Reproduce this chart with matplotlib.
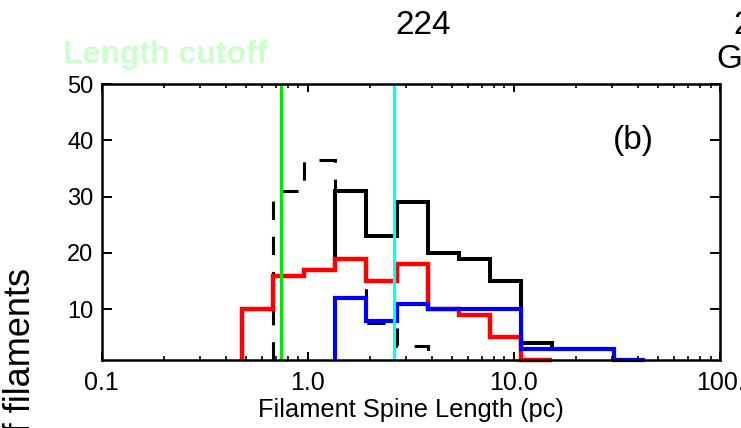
import matplotlib
matplotlib.use("Agg")
import matplotlib.pyplot as plt

plt.rcParams['font.family'] = ['Liberation Sans', 'DejaVu Sans']

# bin edges (pc)
edges = [0.481, 0.680, 0.961, 1.359, 1.921, 2.716, 3.840, 5.429, 7.676,
         10.85, 15.35, 21.70, 30.68, 43.37]

# counts per bin
total = [10, 16, 17, 31, 23, 29, 20, 19, 15, 4, 3, 3, 1]      # black solid, bins 0-12
dashed = [31, 36.5, 19, 7.5, 3.5]                              # black dashed, bins 1-5
red = [10, 16, 17, 19, 15, 18, 10, 9, 5, 1]                    # bins 0-9
blue = [12, 8, 11, 10, 10, 10, 3, 3, 3, 1]                     # bins 3-12

cutoff_green = 0.741
cutoff_cyan = 2.62

xticks = [0.1, 1.0, 10.0, 100.0]
xticklabels = ["0.1", "1.0", "10.0", "100."]
yticks = [10, 20, 30, 40, 50]

fig = plt.figure(figsize=(7.41, 4.28), dpi=100)
ax = fig.add_axes([0.1372, 0.1589, 0.8345, 0.6448])

ax.stairs(total, edges[0:14], baseline=1, color="black", lw=2.9, clip_on=False)
ax.stairs(dashed, edges[1:7], baseline=1, color="black", lw=2.2,
          linestyle=(0, (6, 5.5)), clip_on=False)
ax.stairs(red, edges[0:11], baseline=1, color="#ff0000", lw=3.2, clip_on=False)
ax.stairs(blue, edges[3:14], baseline=1, color="#0000ff", lw=3.0, clip_on=False)

ax.axvline(cutoff_green, color="#00e600", lw=2.3)
ax.axvline(cutoff_cyan, color="#00ffff", lw=2.3)

ax.set_xscale("log")
ax.set_xlim(0.1, 100)
ax.set_ylim(1, 50)
ax.set_xticks(xticks)
ax.set_xticklabels(xticklabels)
ax.set_yticks(yticks)
ax.minorticks_off()
ax.xaxis.set_minor_locator(matplotlib.ticker.LogLocator(subs=range(2, 10)))
ax.xaxis.set_minor_formatter(matplotlib.ticker.NullFormatter())

for s in ax.spines.values():
    s.set_linewidth(1.8)
ax.tick_params(axis="x", which="major", direction="in", length=5.8, width=1.4,
               top=True, labelsize=18, pad=8)
ax.tick_params(axis="x", which="minor", direction="in", length=3.2, width=1.2, top=True)
ax.tick_params(axis="y", which="major", direction="in", length=7.2, width=1.4,
               right=True, labelsize=17, pad=6)

ax.set_xlabel("Filament Spine Length (pc)", fontsize=18.3, labelpad=2)

fig.text(633 / 741, 1 - 141 / 428, "(b)", fontsize=24, ha="center", va="center")
fig.text(423 / 741, 1 - 26 / 428, "224", fontsize=24, ha="center", va="center")
fig.text(733 / 741, 1 - 26 / 428, "2", fontsize=24, ha="left", va="center")
fig.text(716 / 741, 1 - 60 / 428, "G", fontsize=24, ha="left", va="center")
fig.text(63 / 741, 1 - 55 / 428, "Length cutoff", fontsize=23, fontweight="bold",
         color="#ccffcc", ha="left", va="center")
fig.text(21 / 741, 1 - 268 / 428, "Number of filaments", fontsize=26,
         rotation=90, ha="center", va="top")

fig.savefig("out.png", dpi=100)
